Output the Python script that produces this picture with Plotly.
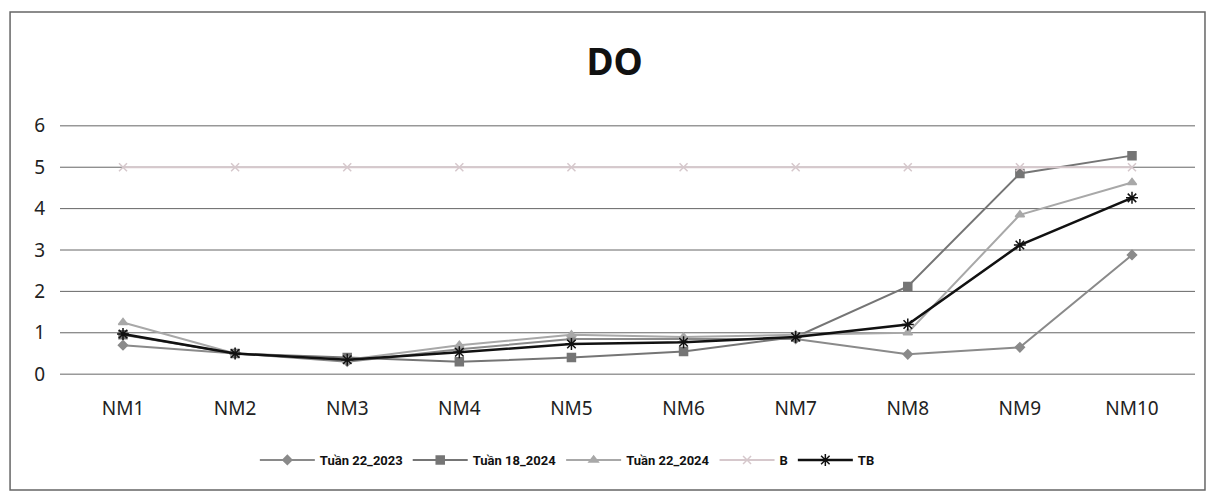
import plotly.graph_objects as go

categories = ["NM1", "NM2", "NM3", "NM4", "NM5", "NM6", "NM7", "NM8", "NM9", "NM10"]
tuan22_2023 = [0.70, 0.50, 0.30, 0.60, 0.85, 0.85, 0.85, 0.48, 0.65, 2.88]
tuan18_2024 = [0.95, 0.50, 0.40, 0.30, 0.40, 0.55, 0.90, 2.12, 4.85, 5.28]
tuan22_2024 = [1.25, 0.50, 0.35, 0.70, 0.95, 0.90, 0.95, 1.00, 3.85, 4.63]
b_limit = [5, 5, 5, 5, 5, 5, 5, 5, 5, 5]
tb = [0.97, 0.50, 0.35, 0.53, 0.73, 0.77, 0.90, 1.20, 3.12, 4.26]
y_ticks = [0, 1, 2, 3, 4, 5, 6]

series = [
    ("Tuần 22_2023", tuan22_2023, "#8a8a8a", "diamond", 7, 2),
    ("Tuần 18_2024", tuan18_2024, "#757575", "square", 8, 2),
    ("Tuần 22_2024", tuan22_2024, "#a8a8a8", "triangle-up", 8, 2),
    ("B", b_limit, "#d6c8cc", "x-thin-open", 8, 2),
    ("TB", tb, "#111111", "asterisk-open", 10, 2.5),
]

fig = go.Figure()
for name, values, color, symbol, msize, width in series:
    fig.add_trace(go.Scatter(
        x=categories, y=values, name=name, mode="lines+markers",
        line=dict(color=color, width=width),
        marker=dict(symbol=symbol, size=msize, color=color,
                    line=dict(color=color, width=1.5)),
    ))

# horizontal gridlines drawn as shapes so the edge lines (0 and 6) show too
grid_shapes = [
    dict(type="line", xref="paper", yref="y", x0=0, x1=1, y0=v, y1=v,
         line=dict(color="#666666", width=1), layer="below")
    for v in y_ticks
]
frame = dict(type="rect", xref="paper", yref="paper",
             x0=-0.044, x1=1.0088, y0=-0.46, y1=1.452,
             line=dict(color="#666666", width=1.5), layer="below")

fig.update_layout(
    width=1210, height=494,
    margin=dict(l=60, r=15, t=125, b=119),
    paper_bgcolor="white", plot_bgcolor="white",
    font=dict(family="Noto Sans, Open Sans, sans-serif", color="#222222"),
    title=dict(text="<b>DO</b>", x=0.508, xanchor="center", y=0.875, yanchor="middle",
               font=dict(size=37, color="#111111", family="Noto Sans, sans-serif")),
    showlegend=True,
    legend=dict(orientation="h", x=0.447, xanchor="center", y=-0.34, yanchor="middle",
                font=dict(size=13, color="#111111",
                          family="Liberation Sans Narrow, Roboto, sans-serif",
                          weight="bold"),
                itemwidth=55, bgcolor="rgba(0,0,0,0)"),
    xaxis=dict(type="category", showgrid=False, zeroline=False, showline=False,
               ticks="", tickfont=dict(size=19, color="#222222"), ticklabelstandoff=20),
    yaxis=dict(range=[-0.02, 6.02], tickvals=y_ticks, showgrid=False,
               zeroline=False, showline=False, ticks="",
               tickfont=dict(size=19, color="#222222"), ticklabelstandoff=14),
    shapes=grid_shapes + [frame],
)

fig.write_html("out.html")
